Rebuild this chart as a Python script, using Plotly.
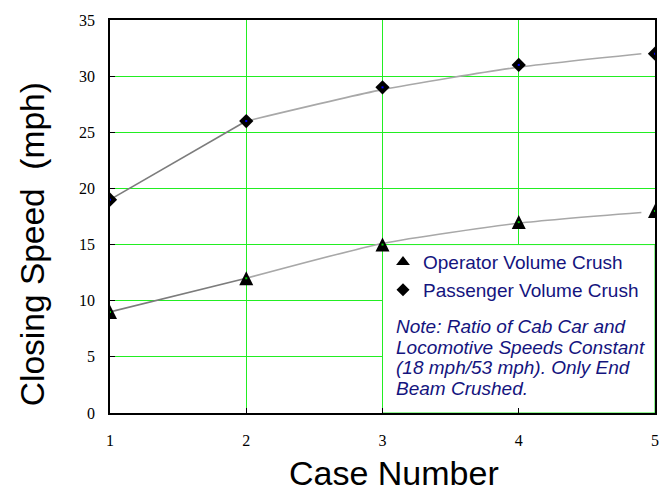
import plotly.graph_objects as go

# Case numbers and closing speeds (mph)
cases = [1, 2, 3, 4, 5]
operator_speed = [9, 12, 15, 17, 18]
passenger_speed = [19, 26, 29, 31, 32]

# Smoothed trend curves through the results
trend_x = [1, 2, 3, 4, 4.9]
operator_trend = [9, 12, 15.1, 16.9, 17.85]
passenger_trend = [19, 26, 28.8, 30.8, 32.0]

y_ticks = [0, 5, 10, 15, 20, 25, 30, 35]
x_ticks = [1, 2, 3, 4, 5]

note_lines = [
    "Note: Ratio of Cab Car and",
    "Locomotive Speeds Constant",
    "(18 mph/53 mph). Only End",
    "Beam Crushed.",
]

W, H = 672, 496
ML, MR, MT, MB = 110, 17, 15, 83
PW, PH = W - ML - MR, H - MT - MB


def px(x):
    return (x - ML) / PW


def py(y):
    return (H - MB - y) / PH


GRID = "#22ee22"
NAVY = "#14147e"
SANS = "Liberation Sans, Arial, sans-serif"
SERIF = "Liberation Serif, Times New Roman, serif"

fig = go.Figure()

# trend curves: straight first segment, smooth curve afterwards
for ys in (operator_trend, passenger_trend):
    fig.add_trace(go.Scatter(
        x=trend_x[1:], y=ys[1:], mode="lines", showlegend=False, hoverinfo="skip",
        line=dict(color="#a8a8a8", width=1.6, shape="spline", smoothing=0.6),
    ))
    fig.add_trace(go.Scatter(
        x=trend_x[:2], y=ys[:2], mode="lines", showlegend=False, hoverinfo="skip",
        line=dict(color="#7c7c7c", width=1.6),
    ))

# arrow-down shifted by half its height and turned over: a centred,
# equal-sided upward triangle
fig.add_trace(go.Scatter(
    x=cases, y=operator_speed, mode="markers", name="Operator Volume Crush",
    legendgroup="op", showlegend=False,
    marker=dict(symbol="arrow-down", size=14, standoff=7, angle=180,
                color="black", line=dict(color="black", width=0)),
))
fig.add_trace(go.Scatter(
    x=cases, y=passenger_speed, mode="markers", name="Passenger Volume Crush",
    legendgroup="pa", showlegend=False,
    marker=dict(symbol="diamond", size=11, color="black",
                line=dict(color="black", width=0)),
))
# small coloured centres of the markers
fig.add_trace(go.Scatter(
    x=cases, y=operator_speed, mode="markers", showlegend=False, hoverinfo="skip",
    legendgroup="op", marker=dict(symbol="square", size=2, color="#00cc00"),
))
fig.add_trace(go.Scatter(
    x=cases, y=passenger_speed, mode="markers", showlegend=False, hoverinfo="skip",
    legendgroup="pa", marker=dict(symbol="square", size=2, color="#0000ff"),
))

# legend keys
fig.add_trace(go.Scatter(
    x=[None], y=[None], mode="markers", name="Operator Volume Crush",
    legendgroup="op",
    marker=dict(symbol="triangle-up", size=12, color="black",
                line=dict(color="black", width=0)),
))
fig.add_trace(go.Scatter(
    x=[None], y=[None], mode="markers", name="Passenger Volume Crush",
    legendgroup="pa",
    marker=dict(symbol="diamond", size=10, color="black",
                line=dict(color="black", width=0)),
))

# white panel holding the legend and note
fig.add_shape(type="rect", xref="x", yref="y", x0=3, x1=5, y0=0, y1=15,
              fillcolor="white", line=dict(color=GRID, width=1), layer="between")

for i, line in enumerate(note_lines):
    fig.add_annotation(
        xref="paper", yref="paper", x=px(394), y=py(325 + i * 21.2),
        xanchor="left", yanchor="middle", showarrow=False, text=f"<i>{line}</i>",
        font=dict(family=SANS, size=19, color=NAVY),
    )

fig.add_annotation(
    xref="paper", yref="paper", x=px(394), y=py(474),
    xanchor="center", yanchor="middle", showarrow=False, text="Case Number",
    font=dict(family=SANS, size=34, color="black"),
)
fig.add_annotation(
    xref="paper", yref="paper", x=px(32), y=py(242), textangle=-90,
    xanchor="center", yanchor="middle", showarrow=False,
    text="Closing Speed\u00a0\u00a0(mph)",
    font=dict(family=SANS, size=33.5, color="black"),
)

fig.update_layout(
    width=W, height=H,
    margin=dict(l=ML, r=MR, t=MT, b=MB),
    paper_bgcolor="white", plot_bgcolor="white",
    showlegend=True,
    legend=dict(
        x=px(383), y=py(241), xanchor="left", yanchor="top",
        bgcolor="rgba(0,0,0,0)", borderwidth=0,
        font=dict(family=SANS, size=19, color=NAVY),
        itemwidth=30, tracegroupgap=0,
    ),
)

fig.update_xaxes(
    range=[1, 5], tickvals=x_ticks, ticktext=[str(v) for v in x_ticks],
    showgrid=True, gridcolor=GRID, gridwidth=1,
    showline=True, linecolor="black", linewidth=1.5, mirror=True,
    ticks="inside", ticklen=5, tickcolor="black",
    tickfont=dict(family=SERIF, size=16, color="black"),
    ticklabelstandoff=12, zeroline=False,
)
fig.update_yaxes(
    range=[0, 35], tickvals=y_ticks, ticktext=[str(v) for v in y_ticks],
    showgrid=True, gridcolor=GRID, gridwidth=1,
    showline=True, linecolor="black", linewidth=1.5, mirror=True,
    ticks="inside", ticklen=5, tickcolor="black",
    tickfont=dict(family=SERIF, size=16, color="black"),
    ticklabelstandoff=10, zeroline=False,
)

fig.write_html("out.html")
